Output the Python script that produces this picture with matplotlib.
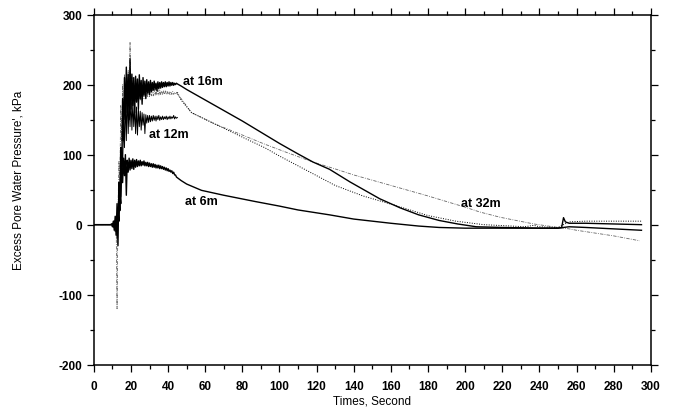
import numpy as np
import matplotlib
matplotlib.use("Agg")
import matplotlib.pyplot as plt
from matplotlib.ticker import MultipleLocator

plt.rcParams['font.family'] = ['Liberation Sans', 'DejaVu Sans']
plt.rcParams['axes.unicode_minus'] = False

# time grid of the shaking phase (s)
t_shake = [0.0] + list(np.arange(9.0, 45.01, 0.5))

# excess pore water pressure during shaking, kPa
p16_shake = [0,
             0, 1, -3, 5, -8, 12, -15, 30, -30, 60,
             20, 110, 70, 180, 120, 210, 150, 225, 160, 215,
             150, 237, 165, 215, 170, 210, 160, 212, 175, 208,
             165, 214, 180, 206, 172, 210, 185, 205, 180, 207,
             188, 204, 186, 206, 190, 203, 192, 205, 193, 202,
             191, 204, 194, 203, 195, 204, 196, 203, 197, 204,
             197, 203, 198, 204, 198, 203, 199, 203, 199, 202,
             200, 202, 201]
p6_shake = [0,
            0, 0, 1, -2, 4, -6, 10, -12, 20, 5,
            45, 30, 80, 60, 95, 70, 100, 42, 92, 75,
            95, 78, 92, 80, 94, 79, 92, 82, 93, 83,
            91, 84, 92, 84, 90, 85, 91, 84, 89, 84,
            89, 83, 88, 83, 87, 82, 87, 82, 86, 81,
            85, 81, 85, 80, 84, 80, 83, 79, 82, 78,
            81, 77, 80, 76, 78, 75, 77, 73, 75, 71,
            71, 68, 67]
p12_shake = [0,
             0, 0, 2, -4, 6, -10, 12, -20, 25, 5,
             60, 40, 110, 80, 150, 110, 180, 120, 190, 130,
             175, 140, 180, 135, 175, 140, 170, 130, 168, 128,
             165, 140, 162, 135, 160, 142, 158, 130, 157, 145,
             156, 146, 156, 147, 155, 148, 156, 149, 155, 148,
             155, 150, 156, 149, 154, 150, 155, 150, 154, 151,
             155, 150, 154, 151, 155, 151, 154, 152, 156, 151,
             154, 152, 153]
p32_shake = [0,
             0, 0, 1, -2, 3, -5, 8, -120, 20, 90,
             60, 170, 120, 200, 150, 215, 160, 210, 165, 220,
             170, 260, 168, 210, 172, 205, 170, 203, 175, 200,
             176, 198, 178, 197, 179, 196, 180, 195, 181, 195,
             182, 194, 183, 194, 184, 193, 184, 193, 185, 192,
             185, 192, 185, 192, 186, 191, 186, 191, 186, 191,
             186, 190, 186, 190, 186, 190, 186, 190, 186, 189,
             187, 189, 186]

# dissipation phase
t16_late = [47, 50, 60, 70, 80, 90, 100, 110, 118, 127, 138, 154, 165, 175, 186,
            196, 206, 220, 240, 250, 252, 253, 254, 256, 265, 280, 295]
p16_late = [198, 193, 178, 163, 148, 132, 116, 101, 89.5, 79, 61, 37, 24, 14, 6,
            1, -3, -4, -5, -5, -4, 10, 4, 2, 2, 1, 0]
t6_late = [47, 50, 58, 70, 87, 100, 110, 127, 140, 160, 175, 186, 200, 230, 250,
           253, 256, 265, 280, 295]
p6_late = [63, 58, 49, 42, 33, 26.5, 21, 14, 8, 2, -2, -4, -5, -5, -5,
           -4, -3, -4, -6, -8]
t12_tail = [45, 47, 52.6, 65, 80, 92, 100, 115, 130, 145, 163, 180, 195, 210, 225,
            232, 237, 240, 250, 256, 265, 280, 295]
p12_tail = [189, 178, 160, 144, 125, 110, 98, 77, 56, 41, 27, 13, 5, 0, -2,
            -3, -1, -3, -4, 4, 5, 5, 5]
t32_late = [47, 52.6, 65, 80, 92, 104, 118, 130, 140, 160, 180, 200, 208, 219, 237,
            250, 256, 260, 280, 294]
p32_late = [180, 160, 144, 128, 115, 103, 89.5, 79.6, 71, 56, 41, 25, 18, 10.5, 1,
            -4, -6, -8, -16, -23]

fig = plt.figure(figsize=(6.8, 4.1), dpi=100)
ax = fig.add_axes([0.138, 0.108, 0.819, 0.854])

ax.plot(t_shake + t32_late, p32_shake + p32_late, color='0.4', lw=0.6,
        linestyle=(0, (4, 1.5, 1, 1.5)))
ax.plot(t12_tail, p12_tail, color='black', lw=0.7, linestyle=(0, (1, 1.5)))
ax.plot(t_shake, p12_shake, color='black', lw=0.7)
ax.plot(t_shake + t6_late, p6_shake + p6_late, color='black', lw=1.0)
ax.plot(t_shake + t16_late, p16_shake + p16_late, color='black', lw=1.0)

# labels of the depths
lab = dict(fontsize=9, fontweight='bold', ha='left', va='center')
ax.text(48, 205, 'at 16m', **lab)
ax.text(29.5, 130, 'at 12m', **lab)
ax.text(49, 34, 'at 6m', **lab)
ax.text(198, 31, 'at 32m', **lab)

ax.set_xlim(0, 300)
ax.set_ylim(-200, 300)
ax.xaxis.set_major_locator(MultipleLocator(20))
ax.xaxis.set_minor_locator(MultipleLocator(10))
ax.yaxis.set_major_locator(MultipleLocator(100))
ax.yaxis.set_minor_locator(MultipleLocator(50))
ax.tick_params(which='both', direction='out', top=True, right=True,
               width=0.9, labelsize=8.5)
ax.tick_params(which='major', length=5)
ax.tick_params(which='minor', length=3)
ax.tick_params(axis='x', pad=6)
for lbl in ax.get_xticklabels() + ax.get_yticklabels():
    lbl.set_fontweight('bold')
for s in ax.spines.values():
    s.set_linewidth(1.1)

ax.set_xlabel('Times, Second', fontsize=8.5)
ax.set_ylabel("Excess Pore Water Pressure', kPa", fontsize=8.5)
ax.xaxis.set_label_coords(0.5, -0.085)
ax.yaxis.set_label_coords(-0.125, 0.53)

fig.savefig('out.png', dpi=100)
